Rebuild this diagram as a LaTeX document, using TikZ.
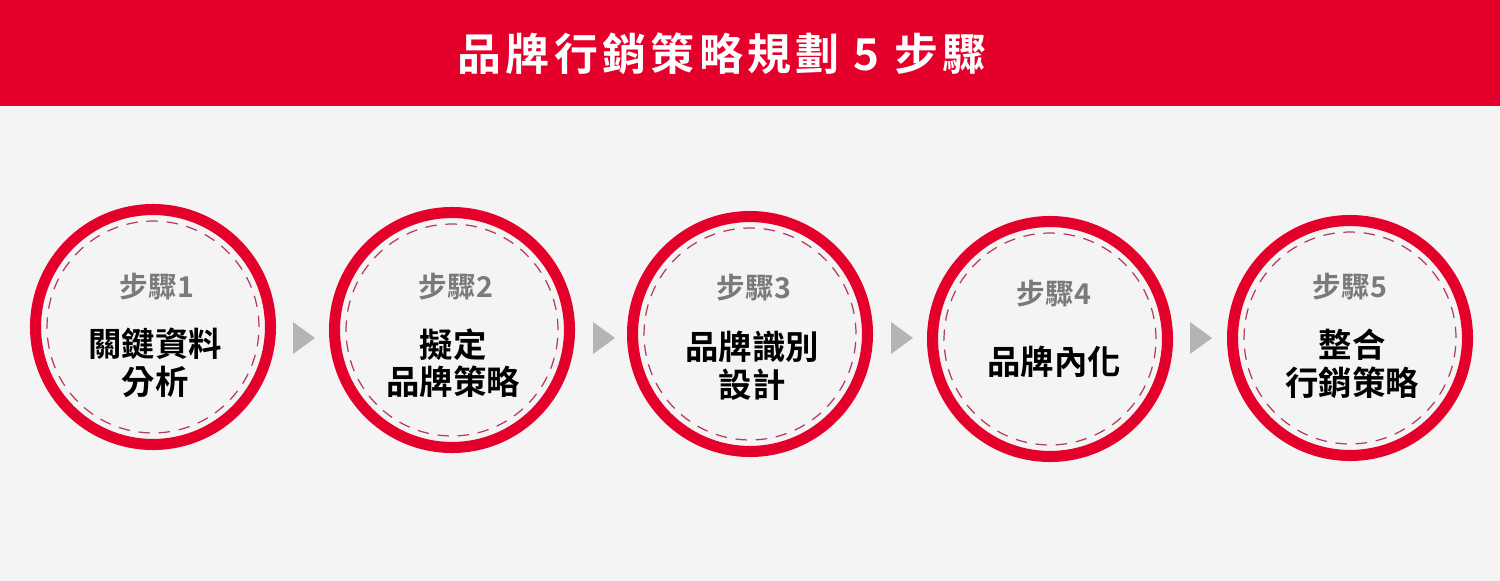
\documentclass[tikz,border=0pt]{standalone}
\usepackage{fontspec}
\setmainfont{Noto Sans CJK TC}[BoldFont={Noto Sans CJK TC Bold}]
\newfontfamily\titlefont{Noto Sans CJK TC Bold}[LetterSpace=10]
\definecolor{brandred}{RGB}{228,0,43}
\definecolor{dashred}{RGB}{178,60,92}
\definecolor{labelgray}{RGB}{122,122,122}
\definecolor{arrowgray}{RGB}{180,180,180}
\definecolor{bggray}{RGB}{244,244,244}
\begin{document}
\begin{tikzpicture}[x=0.02cm,y=-0.02cm,
  ring/.style={circle,draw=brandred,line width=6.3pt,minimum size=4.7cm,inner sep=0pt},
  dashring/.style={circle,draw=dashred,line width=0.7pt,dash pattern=on 6.5pt off 5pt,minimum size=4.24cm,inner sep=0pt},
  steplabel/.style={font=\bfseries\fontsize{16.3}{19}\selectfont,text=labelgray,inner sep=0pt},
  maintext/.style={font=\bfseries\fontsize{19}{21.3}\selectfont,align=center,text=black,inner sep=0pt},
  tri/.style={fill=arrowgray}]
\useasboundingbox (0,0) rectangle (1500,581);
\fill[bggray] (0,0) rectangle (1500,581);
\fill[brandred] (0,0) rectangle (1500,106);
\node[font=\titlefont\fontsize{25}{30}\selectfont,text=white,inner sep=0pt] (title) at (722,54) {品牌行銷策略規劃 5 步驟};
% circles
\node[ring] (c1) at (153,327) {};
\node[ring] (c2) at (452,330) {};
\node[ring] (c3) at (750,334) {};
\node[ring] (c4) at (1050,339) {};
\node[ring] (c5) at (1350,338) {};
\node[dashring] (d1) at (c1) {};
\node[dashring] (d2) at (c2) {};
\node[dashring] (d3) at (c3) {};
\node[dashring] (d4) at (c4) {};
\node[dashring] (d5) at (c5) {};
% labels
\node[steplabel] (s1) at (157,287) {步驟1};
\node[steplabel] (s2) at (456,287) {步驟2};
\node[steplabel] (s3) at (754,288) {步驟3};
\node[steplabel] (s4) at (1054,294) {步驟4};
\node[steplabel] (s5) at (1350,287) {步驟5};
\node[maintext] (t1) at (155,363) {關鍵資料\\分析};
\node[maintext] (t2) at (453,363) {擬定\\品牌策略};
\node[maintext] (t3) at (752,366) {品牌識別\\設計};
\node[maintext] (t4) at (1054,362) {品牌內化};
\node[maintext] (t5) at (1352,364) {整合\\行銷策略};
% arrows
\coordinate (a1) at (293,338);
\coordinate (a2) at (593,338);
\coordinate (a3) at (891,338);
\coordinate (a4) at (1190,338);
\foreach \a in {a1,a2,a3,a4}{
  \fill[tri] (\a) ++(0,-16) -- ++(22,16) -- ++(-22,16) -- cycle;
}
\end{tikzpicture}
\end{document}
